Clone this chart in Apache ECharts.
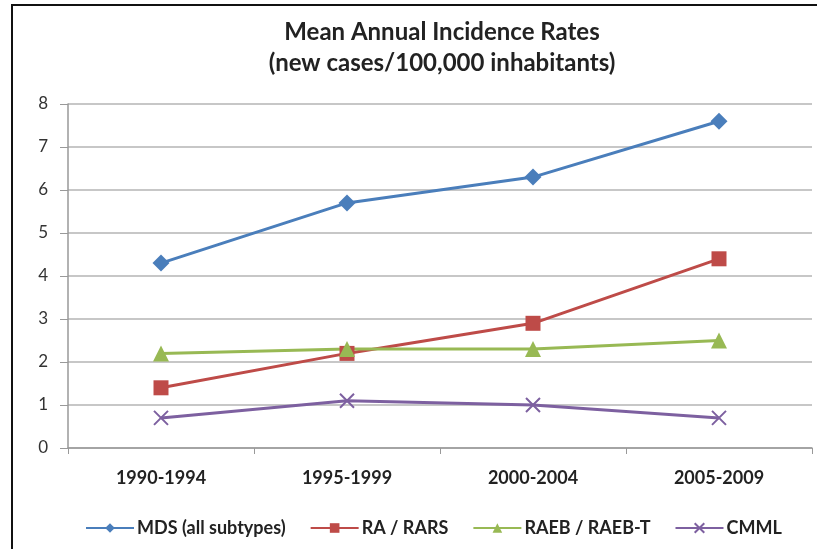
<!DOCTYPE html>
<html>
<head>
<meta charset="utf-8">
<script src="https://cdn.jsdelivr.net/npm/echarts@6/dist/echarts.min.js"></script>
<style>
html,body{margin:0;padding:0;background:#fff;}
#chart{width:817px;height:549px;}
</style>
</head>
<body>
<div id="chart"></div>
<script>
// Periods on the x axis
const periods = ['1990-1994', '1995-1999', '2000-2004', '2005-2009'];
// Mean annual incidence per 100,000 inhabitants
const mds = [4.3, 5.7, 6.3, 7.6];
const raRars = [1.4, 2.2, 2.9, 4.4];
const raeb = [2.2, 2.3, 2.3, 2.5];
const cmml = [0.7, 1.1, 1.0, 0.7];

const FONT = 'Lato, "Liberation Sans", sans-serif';

const chart = echarts.init(document.getElementById('chart'));

// Cross marker for CMML
const crossPath = 'path://M0,0 L10,10 M10,0 L0,10';

function line(name, data, color, symbol, size) {
  return {
    name: name,
    type: 'line',
    data: data,
    symbol: symbol,
    symbolSize: size,
    lineStyle: { color: color, width: 3 },
    itemStyle: { color: color },
    emphasis: { disabled: true }
  };
}

chart.setOption({
  animation: false,
  backgroundColor: '#fff',
  title: {
    text: 'Mean Annual Incidence Rates\n(new cases/100,000 inhabitants)',
    left: 437,
    top: 12,
    textAlign: 'center',
    textStyle: { fontFamily: FONT, fontSize: 24, fontWeight: 'bold', color: '#222', lineHeight: 31 }
  },
  legend: {
    top: 514,
    left: 80,
    itemWidth: 48,
    itemHeight: 12,
    itemGap: 24,
    textStyle: { fontFamily: FONT, fontSize: 18, fontWeight: 'bold', color: '#222', padding: [0, 0, 0, -2] },
    data: ['MDS (all subtypes)', 'RA / RARS', 'RAEB / RAEB-T', 'CMML']
  },
  grid: { left: 68, right: 5, top: 104, bottom: 101, containLabel: false },
  xAxis: {
    type: 'category',
    data: periods,
    boundaryGap: true,
    axisLine: { lineStyle: { color: '#999', width: 1.5 } },
    axisTick: { show: true, alignWithLabel: false, length: 6, lineStyle: { color: '#999' } },
    axisLabel: { fontFamily: FONT, fontSize: 18, fontWeight: 'bold', color: '#222', margin: 21 }
  },
  yAxis: {
    type: 'value',
    min: 0,
    max: 8,
    interval: 1,
    axisLine: { show: true, lineStyle: { color: '#999', width: 1.5 } },
    axisTick: { show: true, length: 8, lineStyle: { color: '#999' } },
    axisLabel: { fontFamily: FONT, fontSize: 17, color: '#333', margin: 20 },
    splitLine: { lineStyle: { color: '#b5b5b5', width: 1.5 } }
  },
  graphic: [
    {
      type: 'rect',
      shape: { x: 12, y: 5, width: 820, height: 560 },
      style: { fill: 'none', stroke: '#111', lineWidth: 2 },
      silent: true
    }
  ],
  series: [
    line('MDS (all subtypes)', mds, '#4a7ebb', 'diamond', 17),
    line('RA / RARS', raRars, '#be4b48', 'rect', 15),
    line('RAEB / RAEB-T', raeb, '#98b954', 'triangle', 16),
    {
      name: 'CMML',
      type: 'line',
      data: cmml,
      symbol: crossPath,
      symbolSize: 14,
      lineStyle: { color: '#7d60a0', width: 3 },
      itemStyle: { color: 'none', borderColor: '#7d60a0', borderWidth: 2 },
      emphasis: { disabled: true }
    }
  ]
});
</script>
</body>
</html>
